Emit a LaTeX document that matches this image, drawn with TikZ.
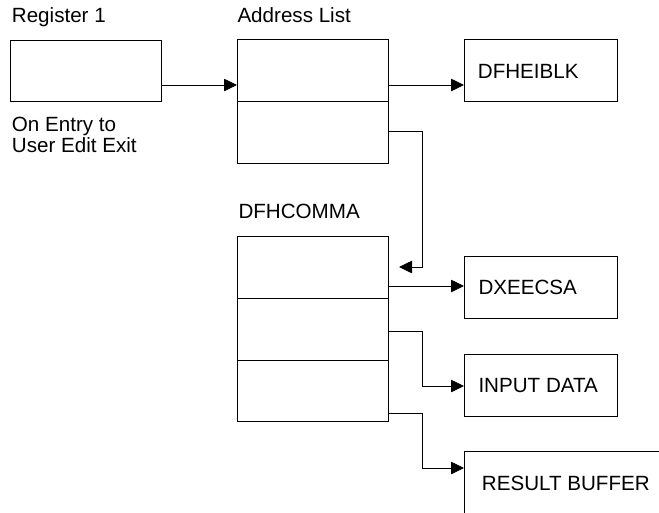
\documentclass[tikz,border=0pt]{standalone}
\usepackage{fontspec}
\setmainfont{Liberation Sans}
\usetikzlibrary{arrows.meta}
\begin{document}
\begin{tikzpicture}[x=1pt,y=-1pt,
  lbl/.style={anchor=base west,inner sep=0pt,font=\fontsize{20.6}{21}\selectfont},
  cell/.style={draw,line width=0.9pt,anchor=north west,inner sep=0pt,minimum width=151pt},
  tbox/.style={draw,line width=0.9pt,anchor=north west,inner sep=0pt,minimum width=153pt,minimum height=62pt},
  conn/.style={line width=0.8pt,-{Triangle[length=13pt,width=12.5pt]}}]
\useasboundingbox (0,0) rectangle (659,512);
\clip (0,0) rectangle (659,512);
% labels
\node[lbl] (treg) at (11.7,22.7) {Register 1};
\node[lbl] (tal) at (237.3,22.7) {Address List};
\node[lbl] (ton1) at (11.7,131.7) {On Entry to};
\node[lbl] (ton2) at (11.7,152.7) {User Edit Exit};
\node[lbl] (tcom) at (238.3,218.3) {DFHCOMMA};
% boxes
\node[cell,minimum height=61pt] (reg) at (10,40) {};
\node[cell,minimum height=62pt] (al1) at (237,39) {};
\node[cell,minimum height=62pt] (al2) at (237,101) {};
\node[cell,minimum height=62pt] (c1) at (237,236) {};
\node[cell,minimum height=62pt] (c2) at (237,298) {};
\node[cell,minimum height=61pt] (c3) at (237,360) {};
\node[tbox] (eib) at (464,39) {};
\node[tbox] (dxe) at (464,256) {};
\node[tbox] (inp) at (464,354) {};
\node[tbox,minimum width=230pt,minimum height=100pt] (res) at (464,451) {};
\node[lbl] (teib) at (477.7,78.3) {DFHEIBLK};
\node[lbl] (tdxe) at (478.3,294) {DXEECSA};
\node[lbl] (tinp) at (478.3,392.3) {INPUT DATA};
\node[lbl] (tres) at (481.7,490) {RESULT BUFFER};
\coordinate (ctgt) at (399,267);
% connectors
\draw[conn] (reg.east |- 0,85) -- (al1.west |- 0,85);
\draw[conn] (al1.east |- 0,85) -- (eib.west |- 0,85);
\draw[conn] (al2.east |- 0,131) -| (422,267) -- (ctgt);
\draw[conn] (c1.east |- 0,286) -- (dxe.west |- 0,286);
\draw[conn] (c2.east |- 0,331) -| (422,386) -- (inp.west |- 0,386);
\draw[conn] (c3.east |- 0,413) -| (422,468) -- (res.west |- 0,468);
\end{tikzpicture}
\end{document}
